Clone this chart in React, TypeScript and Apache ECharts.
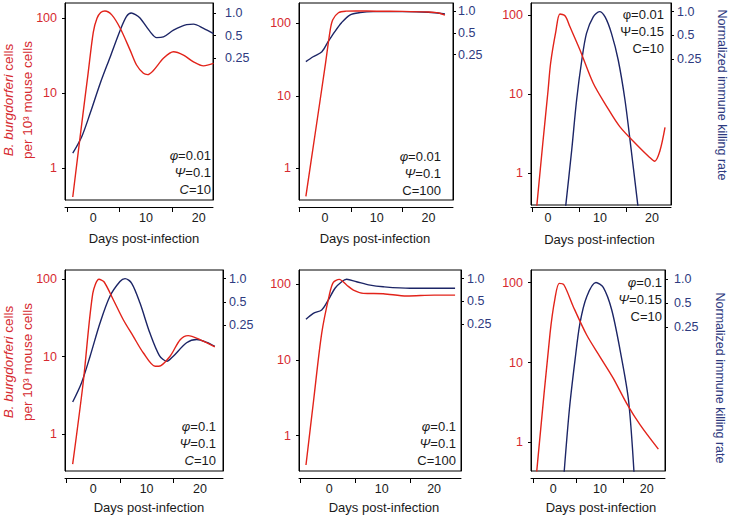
import { useEffect, useRef } from 'react';
import * as echarts from 'echarts';

type Pt = [number, number];

// ---- data: [day post-infection, value] ----
// Panel 1: phi=0.01, Psi=0.1, C=10
const p1Bacteria: Pt[] = [[-3.9, 0.41], [-3, 1.35], [-2, 5], [-1, 18], [0, 65], [0.7, 99], [1.4, 118], [2.2, 124], [3.5, 110], [5.1, 73], [7, 37], [8.2, 23.6], [9.5, 18.3], [10.3, 17.6], [11.4, 20], [13.3, 29], [15.2, 35.5], [17.1, 32], [19, 26], [20.9, 23], [22.8, 24.8]];
const p1Killing: Pt[] = [[-3.9, 0.0135], [-2.2, 0.0224], [-0.6, 0.046], [1.3, 0.115], [3.2, 0.26], [5.1, 0.59], [6.3, 0.9], [7.2, 1.0], [8.0, 0.95], [8.9, 0.85], [10.8, 0.56], [12, 0.47], [13.3, 0.48], [15.2, 0.59], [17.7, 0.7], [19, 0.71], [20.9, 0.625], [22.8, 0.53]];
// Panel 2: phi=0.01, Psi=0.1, C=100
const p2Bacteria: Pt[] = [[-3.7, 0.41], [-2, 2.7], [0, 25], [1, 80], [1.5, 112], [2.6, 140], [4, 147], [6, 148], [10, 147], [15, 146], [20, 143], [22, 139], [23.2, 130]];
const p2Killing: Pt[] = [[-3.7, 0.2], [-2.3, 0.234], [-0.6, 0.275], [0.6, 0.377], [1.9, 0.52], [3.2, 0.69], [4.8, 0.88], [6.8, 0.95], [9.3, 0.98], [15, 0.98], [20, 0.96], [23.2, 0.91]];
// Panel 3: phi=0.01, Psi=0.15, C=10
const p3Bacteria: Pt[] = [[-2.2, 0.36], [-1, 2.4], [0, 11], [0.5, 24.7], [1.5, 62], [2.3, 104], [3.3, 98], [4.2, 72], [6.15, 36.4], [8.7, 13.8], [11.3, 7.0], [13.8, 3.9], [17.1, 2.28], [19.5, 1.6], [20.5, 1.42], [21.5, 1.9], [22.5, 3.8]];
const p3Killing: Pt[] = [[3.3, 0.003], [4.56, 0.0177], [5.5, 0.076], [6.5, 0.244], [7.4, 0.53], [8.7, 0.86], [9.9, 1.0], [11, 0.85], [12.2, 0.53], [13.5, 0.244], [14.8, 0.076], [16, 0.0177], [17.4, 0.003]];
// Panel 4: phi=0.1, Psi=0.1, C=10
const p4Bacteria: Pt[] = [[-3.87, 0.41], [-1.9, 4.6], [-0.1, 65], [1.07, 99], [2, 92], [3.75, 54], [5.6, 30], [7.5, 18.2], [9.4, 11.1], [11.6, 7.5], [12.3, 7.5], [14.4, 10.1], [16.3, 16.5], [17.8, 18.6], [20, 16.5], [22.8, 13.3]];
const p4Killing: Pt[] = [[-3.87, 0.0257], [-2.2, 0.0456], [-0.6, 0.1], [1.26, 0.268], [3.1, 0.588], [5, 0.916], [5.95, 1.0], [7.2, 0.87], [8.76, 0.484], [10.6, 0.2], [12.4, 0.102], [13.8, 0.086], [15, 0.1], [17.5, 0.149], [19.4, 0.164], [21.3, 0.151], [22.8, 0.134]];
// Panel 5: phi=0.1, Psi=0.1, C=100
const p5Bacteria: Pt[] = [[-4.45, 0.41], [-3, 2.9], [-1.45, 22.5], [0, 72], [0.77, 106], [1.9, 116], [3.3, 98], [4.6, 84], [6.5, 76], [10.3, 75], [14.8, 70], [20, 72], [24, 72]];
const p5Killing: Pt[] = [[-4.45, 0.29], [-3.05, 0.348], [-1.45, 0.385], [-0.2, 0.52], [1.09, 0.745], [2.37, 0.91], [3.3, 0.98], [5.2, 0.91], [7.8, 0.82], [10.3, 0.78], [15.4, 0.745], [20, 0.745], [24, 0.745]];
// Panel 6: phi=0.1, Psi=0.15, C=10
const p6Bacteria: Pt[] = [[-3.56, 0.43], [-0.7, 23.2], [0.36, 63.8], [1.28, 98], [2.29, 93.6], [4.28, 50], [7.15, 22.1], [10, 11.8], [12.85, 6.34], [15.7, 3.08], [18.6, 1.65], [22.5, 0.82]];
const p6Killing: Pt[] = [[2.29, 0.0036], [3.43, 0.0228], [4.65, 0.0964], [5.7, 0.277], [7.15, 0.598], [9.14, 0.9], [10.7, 0.78], [12.5, 0.41], [14.3, 0.128], [16.1, 0.0304], [17.3, 0.0036]];

const bacteriaSeries = [p1Bacteria, p2Bacteria, p3Bacteria, p4Bacteria, p5Bacteria, p6Bacteria];
const killingSeries = [p1Killing, p2Killing, p3Killing, p4Killing, p5Killing, p6Killing];

// tick labels
const xLabelDays = [0, 10, 20];
const bacteriaTicks = [1, 10, 100];
const killingTicks = [0.25, 0.5, 1];

// parameter annotations
const phiValues = ['0.01', '0.01', '0.01', '0.1', '0.1', '0.1'];
const psiValues = ['0.1', '0.1', '0.15', '0.1', '0.1', '0.15'];
const cValues = ['10', '100', '10', '10', '100', '10'];

const xTitle = 'Days post-infection';
const rightTitle = 'Normalized immune killing rate';

// ---- styles / layout ----
const FONT = 'Liberation Sans, Arial, Helvetica, sans-serif';
const RED = '#e2231a';
const NAVY = '#1c2566';
const RED_TXT = '#d62a30';
const NAVY_TXT = '#2e3a80';
const BLACK_TXT = '#1a1a1a';

const panels = [
  { left: 65, top: 3, width: 148, height: 197, xMin: -5.37, xMax: 22.7, yMin: 0.374, yMax: 158.5, rMin: 0.00321, rMax: 1.36, xOffset: 7, xTicks: [-5, 5, 15], lMargin: 8, rMargin: 12, nameGap: 25, nameDx: 5, pRight: 211, pTop: 147, greekItalic: true, cItalic: true },
  { left: 299, top: 3, width: 154, height: 197, xMin: -5.03, xMax: 24.76, yMin: 0.365, yMax: 190.6, rMin: 0.00247, rMax: 1.29, xOffset: 7, xTicks: [-5, 5, 15], lMargin: 8, rMargin: 5, nameGap: 25, nameDx: -1, pRight: 441, pTop: 147.5, greekItalic: true, cItalic: false },
  { left: 531, top: 3, width: 140, height: 202, xMin: -3.27, xMax: 23.65, yMin: 0.397, yMax: 143, rMin: 0.00356, rMax: 1.285, xOffset: 2, xTicks: [-3, 6, 15], lMargin: 8, rMargin: 6, nameGap: 26, nameDx: -1.5, pRight: 664, pTop: 5.5, greekItalic: false, cItalic: false },
  { left: 65, top: 270, width: 158, height: 201, xMin: -5.31, xMax: 24.33, yMin: 0.335, yMax: 130.4, rMin: 0.00332, rMax: 1.29, xOffset: 7, xTicks: [-5, 5, 15], lMargin: 8, rMargin: 6, nameGap: 23, nameDx: 5, pRight: 216, pTop: 418, greekItalic: true, cItalic: true },
  { left: 299, top: 270, width: 162, height: 201, xMin: -5.78, xMax: 25.13, yMin: 0.342, yMax: 154.5, rMin: 0.00287, rMax: 1.299, xOffset: 7, xTicks: [-5.5, 5, 15.5], lMargin: 8, rMargin: 6, nameGap: 23, nameDx: 4, pRight: 456, pTop: 418, greekItalic: true, cItalic: false },
  { left: 531, top: 270, width: 134, height: 201, xMin: -4.78, xMax: 23.92, yMin: 0.437, yMax: 144.3, rMin: 0.00392, rMax: 1.29, xOffset: 7, xTicks: [-4.4, 5, 15], lMargin: 8, rMargin: 9, nameGap: 23, nameDx: 3, pRight: 662, pTop: 273.5, greekItalic: true, cItalic: false },
];

const fmtLeft = (v: number) => String(Math.round(v));
const fmtRight = (v: number) => (Math.abs(v - 1) < 1e-6 ? '1.0' : String(Math.round(v * 100) / 100));

function buildOption() {
  const grid = panels.map((p) => ({
    left: p.left, top: p.top, width: p.width, height: p.height,
    show: true, borderColor: '#000', borderWidth: 1, backgroundColor: 'transparent',
    containLabel: false, outerBoundsMode: 'none',
  }));
  const xAxis = panels.map((p, i) => ({
    type: 'value', gridIndex: i, min: p.xMin, max: p.xMax, position: 'bottom', offset: p.xOffset,
    axisLine: { show: true, onZero: false, lineStyle: { color: '#000', width: 1 } },
    axisTick: { show: true, inside: false, length: 5, customValues: p.xTicks, lineStyle: { color: '#000' } },
    axisLabel: { customValues: xLabelDays, color: BLACK_TXT, fontSize: 12.5, fontFamily: FONT, margin: 4 },
    splitLine: { show: false },
    name: xTitle, nameLocation: 'middle', nameGap: p.nameGap,
    nameTextStyle: {
      color: BLACK_TXT, fontSize: 13, fontFamily: FONT,
      padding: [0, Math.max(0, -2 * p.nameDx), 0, Math.max(0, 2 * p.nameDx)],
    },
  }));
  const yAxis: any[] = [];
  panels.forEach((p, i) => {
    yAxis.push({
      type: 'log', logBase: 10, gridIndex: i, position: 'left', min: p.yMin, max: p.yMax,
      axisLine: { show: true, onZero: false, lineStyle: { color: '#000' } },
      axisTick: { show: true, inside: false, length: 3, customValues: bacteriaTicks, lineStyle: { color: '#000' } },
      axisLabel: { customValues: bacteriaTicks, color: RED_TXT, fontSize: 12.5, fontFamily: FONT, margin: p.lMargin, formatter: fmtLeft },
      splitLine: { show: false },
    });
    yAxis.push({
      type: 'log', logBase: 2, gridIndex: i, position: 'right', min: p.rMin, max: p.rMax,
      axisLine: { show: true, onZero: false, lineStyle: { color: '#000' } },
      axisTick: { show: true, inside: false, length: 3, customValues: killingTicks, lineStyle: { color: '#000' } },
      axisLabel: { customValues: killingTicks, color: NAVY_TXT, fontSize: 12.5, fontFamily: FONT, margin: p.rMargin, formatter: fmtRight },
      splitLine: { show: false },
    });
  });
  const series: any[] = [];
  panels.forEach((_, i) => {
    series.push({
      type: 'line', name: 'B. burgdorferi', xAxisIndex: i, yAxisIndex: 2 * i, data: bacteriaSeries[i],
      showSymbol: false, smooth: 0.3, clip: true, lineStyle: { color: RED, width: 1.4 }, itemStyle: { color: RED }, z: 3,
    });
    series.push({
      type: 'line', name: 'Immune killing', xAxisIndex: i, yAxisIndex: 2 * i + 1, data: killingSeries[i],
      showSymbol: false, smooth: 0.3, clip: true, lineStyle: { color: NAVY, width: 1.4 }, itemStyle: { color: NAVY }, z: 2,
    });
  });

  const richBase = { fontSize: 13, fontFamily: FONT, fill: BLACK_TXT };
  const graphic: any[] = [];
  panels.forEach((p, i) => {
    graphic.push({
      type: 'text', x: p.pRight, y: p.pTop, silent: true,
      style: {
        text: `{g|φ}{n|=${phiValues[i]}}\n{g|Ψ}{n|=${psiValues[i]}}\n{c|C}{n|=${cValues[i]}}`,
        rich: {
          g: { ...richBase, fontStyle: p.greekItalic ? 'italic' : 'normal', lineHeight: 17 },
          c: { ...richBase, fontStyle: p.cItalic ? 'italic' : 'normal', lineHeight: 17 },
          n: { ...richBase, lineHeight: 17 },
        },
        ...richBase, lineHeight: 17,
        textAlign: 'right', align: 'right', textVerticalAlign: 'top', verticalAlign: 'top',
      },
    });
  });
  [100, 362].forEach((cy) => {
    graphic.push({
      type: 'text', x: 17.5, y: cy, rotation: Math.PI / 2, silent: true,
      style: {
        text: '{i|B. burgdorferi}{n| cells}\n{n|per 10³ mouse cells}',
        rich: {
          i: { fontSize: 13.5, fontFamily: FONT, fill: RED_TXT, fontStyle: 'italic', lineHeight: 19 },
          n: { fontSize: 13.5, fontFamily: FONT, fill: RED_TXT, lineHeight: 19 },
        },
        fontSize: 13.5, fontFamily: FONT, fill: RED_TXT, lineHeight: 19,
        textAlign: 'center', align: 'center', textVerticalAlign: 'middle', verticalAlign: 'middle',
      },
    });
  });
  [[722, 95], [720, 378]].forEach(([cx, cy]) => {
    graphic.push({
      type: 'text', x: cx, y: cy, rotation: -Math.PI / 2, silent: true,
      style: {
        text: rightTitle, fontSize: 12.5, fontFamily: FONT, fill: NAVY_TXT,
        textAlign: 'center', align: 'center', textVerticalAlign: 'middle', verticalAlign: 'middle',
      },
    });
  });

  return {
    animation: false,
    backgroundColor: '#ffffff',
    textStyle: { fontFamily: FONT },
    grid, xAxis, yAxis, series, graphic,
  };
}

export default function App() {
  const ref = useRef<HTMLDivElement>(null);
  useEffect(() => {
    if (!ref.current) return;
    const chart = echarts.init(ref.current, null, { renderer: 'svg' });
    chart.setOption(buildOption() as any);
    return () => chart.dispose();
  }, []);
  return <div ref={ref} style={{ position: 'absolute', left: 0, top: 0, width: 731, height: 516, background: '#fff' }} />;
}
